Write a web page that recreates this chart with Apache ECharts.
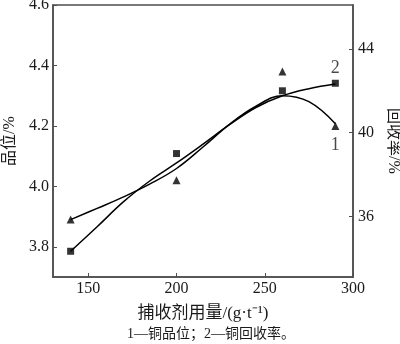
<!DOCTYPE html>
<html>
<head>
<meta charset="utf-8">
<script src="https://cdn.jsdelivr.net/npm/echarts@6/dist/echarts.min.js"></script>
<style>
  html, body { margin: 0; padding: 0; background: #fff; }
  #chart { width: 400px; height: 344px; }
</style>
</head>
<body>
<div id="chart"></div>
<script>
// Collector dosage (g/t) at each test
var dosage = [140, 200, 260, 290];
// Measured copper grade (%) and recovery (%)
var gradeValues = [3.89, 4.02, 4.38, 4.20];
var recoveryValues = [34.33, 39.0, 42.0, 42.36];

// Fitted trend curves, sampled along the dosage axis
var fitDosage = [140, 155, 170, 185, 200, 215, 230, 245, 260, 275, 290];
var gradeFit = [3.890, 3.927, 3.965, 4.008, 4.059, 4.130, 4.205, 4.265, 4.300, 4.280, 4.207];
var recoveryFit = [34.33, 35.50, 36.70, 37.70, 38.55, 39.45, 40.38, 41.20, 41.76, 42.10, 42.32];

// Tick labels
var xTicks = [150, 200, 250, 300];
var gradeTicks = [3.8, 4.0, 4.2, 4.4, 4.6];
var recoveryTicks = [36, 40, 44];

var FONT = '"Liberation Serif", "Times New Roman", serif';
var CJK = '"Liberation Serif", "Noto Sans CJK SC", serif';
var AXIS_COLOR = '#4d4d4d';
var TEXT_COLOR = '#1a1a1a';

function pairs(xs, ys) {
  return xs.map(function (x, i) { return [x, ys[i]]; });
}

var chart = echarts.init(document.getElementById('chart'), null, { renderer: 'canvas' });

var gradePts = pairs(dosage, gradeValues);
var recoveryPts = pairs(dosage, recoveryValues);
// curve numbers written beside the last measured point of each series
gradePts[gradePts.length - 1] = {
  value: gradePts[gradePts.length - 1],
  label: { show: true, formatter: '1', position: 'bottom', distance: 6,
           fontFamily: FONT, fontSize: 18, color: TEXT_COLOR }
};
recoveryPts[recoveryPts.length - 1] = {
  value: recoveryPts[recoveryPts.length - 1],
  label: { show: true, formatter: '2', position: 'top', distance: 2,
           fontFamily: FONT, fontSize: 18, color: TEXT_COLOR }
};

var axisCommon = {
  axisLine: { show: true, lineStyle: { color: AXIS_COLOR, width: 1.5 } },
  axisTick: { show: true, inside: true, length: 4, lineStyle: { color: AXIS_COLOR, width: 1 } },
  splitLine: { show: false },
  axisLabel: { fontFamily: FONT, fontSize: 16, color: TEXT_COLOR }
};

chart.setOption({
  animation: false,
  backgroundColor: '#fff',
  grid: {
    left: 53, right: 47, top: 5, bottom: 67,
    containLabel: false, outerBoundsMode: 'none',
    show: true, borderColor: AXIS_COLOR, borderWidth: 1.5, backgroundColor: 'transparent'
  },
  xAxis: Object.assign({}, axisCommon, {
    type: 'value', min: 130, max: 300,
    axisTick: Object.assign({}, axisCommon.axisTick, { customValues: xTicks }),
    axisLabel: Object.assign({}, axisCommon.axisLabel, { customValues: xTicks, margin: 4 }),
    name: '捕收剂用量/(g·t⁻¹)', nameLocation: 'middle', nameGap: 28,
    nameTextStyle: { fontFamily: CJK, fontSize: 17, color: TEXT_COLOR }
  }),
  yAxis: [
    Object.assign({}, axisCommon, {
      type: 'value', min: 3.7, max: 4.6, position: 'left',
      axisTick: Object.assign({}, axisCommon.axisTick, { customValues: gradeTicks }),
      axisLabel: Object.assign({}, axisCommon.axisLabel, {
        customValues: gradeTicks, margin: 4,
        formatter: function (v) { return v.toFixed(1); }
      }),
      name: '品位/%', nameLocation: 'middle', nameGap: 34, nameRotate: 90,
      nameTextStyle: { fontFamily: CJK, fontSize: 16, color: TEXT_COLOR }
    }),
    Object.assign({}, axisCommon, {
      type: 'value', min: 33.1, max: 46.1, position: 'right',
      axisTick: Object.assign({}, axisCommon.axisTick, { customValues: recoveryTicks }),
      axisLabel: Object.assign({}, axisCommon.axisLabel, { customValues: recoveryTicks, margin: 5 }),
      name: '回收率/%', nameLocation: 'middle', nameGap: 30, nameRotate: -90,
      nameTextStyle: { fontFamily: CJK, fontSize: 16, color: TEXT_COLOR }
    })
  ],
  series: [
    {
      name: '铜品位拟合', type: 'line', yAxisIndex: 0, smooth: 0.4,
      data: pairs(fitDosage, gradeFit), showSymbol: false, silent: true,
      lineStyle: { color: '#000', width: 1.5 }
    },
    {
      name: '铜回收率拟合', type: 'line', yAxisIndex: 1, smooth: 0.4,
      data: pairs(fitDosage, recoveryFit), showSymbol: false, silent: true,
      lineStyle: { color: '#000', width: 1.5 }
    },
    {
      name: '铜品位', type: 'scatter', yAxisIndex: 0, symbol: 'triangle', symbolSize: 8,
      itemStyle: { color: '#000' }, data: gradePts
    },
    {
      name: '铜回收率', type: 'scatter', yAxisIndex: 1, symbol: 'rect', symbolSize: 7,
      itemStyle: { color: '#000' }, data: recoveryPts
    }
  ],
  graphic: [
    {
      type: 'text', left: 127, top: 327,
      style: { text: '1—铜品位；2—铜回收率。', fontFamily: CJK, fontSize: 14, fill: TEXT_COLOR }
    }
  ]
});
</script>
</body>
</html>
